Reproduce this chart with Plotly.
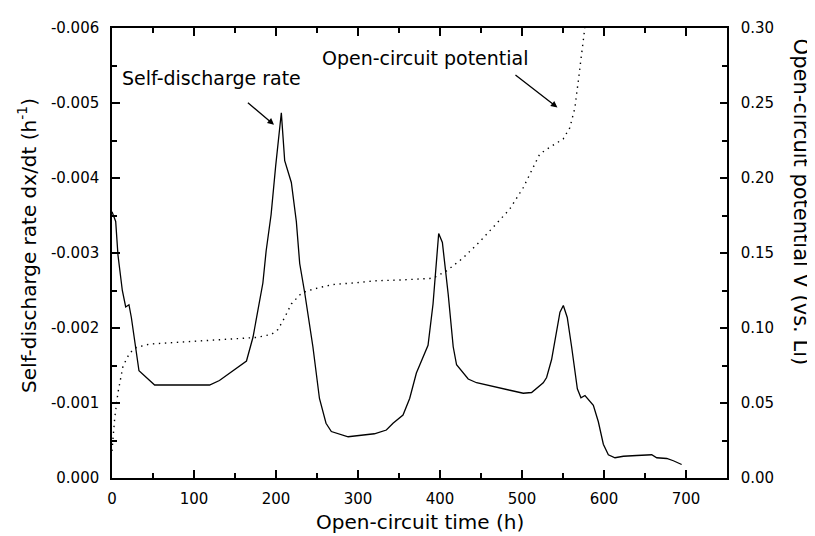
import plotly.graph_objects as go

# ---- data ----
rate_time = [0, 1.2, 4.5, 7.3, 12.6, 16.7, 20.7, 23.6, 32.9, 52, 119, 131, 164, 172, 184, 188, 194,
             199.6, 206.5, 210.6, 218.7, 224.8, 228.9, 235, 245, 253, 261, 267.5, 288, 320, 334.6,
             342.7, 354.9, 363, 371.2, 385.4, 391.5, 398.4, 402.9, 410, 416.1, 420.2, 434.4, 444.6,
             460.9, 473.1, 485.3, 501.5, 511.7, 525.9, 530, 536.1, 542.2, 546.3, 550.4, 555.2, 560.5,
             567.5, 571.9, 576.8, 587, 593.1, 599.2, 605.3, 613.4, 623.6, 639.9, 658.2, 664.3, 676.5,
             684.6, 694.7]
rate_values = [-0.00355, -0.00352, -0.00342, -0.00297, -0.00250, -0.00228, -0.00231, -0.00214, -0.00143,
               -0.00124, -0.00124, -0.00130, -0.00156, -0.00188, -0.00260, -0.00303, -0.00351,
               -0.00416, -0.00487, -0.00423, -0.00394, -0.00342, -0.00286, -0.00247, -0.00175, -0.00106,
               -0.00073, -0.00062, -0.00055, -0.00059, -0.00064,
               -0.00073, -0.00084, -0.00106, -0.00140, -0.00177, -0.00232, -0.00326, -0.00314, -0.00245,
               -0.00175, -0.00151, -0.00132, -0.00127,
               -0.00123, -0.00121, -0.00117, -0.00113, -0.00114, -0.00127, -0.00134, -0.00158, -0.00197,
               -0.00221, -0.00230, -0.00214, -0.00175,
               -0.00119, -0.00107, -0.00110, -0.00097, -0.00075, -0.00045, -0.00031, -0.00027, -0.00029,
               -0.00030, -0.00031, -0.00027, -0.00026,
               -0.00023, -0.00018]

ocp_time = [0, 3.3, 7.3, 13.4, 21.5, 29.7, 46, 66.3, 107, 147.6, 176, 194.3, 202.4, 210.6, 218.7, 228.9,
            237, 253.3, 269.5, 293.9, 322.4, 350.8, 387.5, 394, 407.8, 428.2, 448.5, 468.9, 485.1, 501.4,
            513.6, 521.7, 533.9, 550.2, 558.3, 564.4, 568.5, 572.5, 576.6]
ocp_values = [0.018, 0.040, 0.057, 0.0746, 0.0833, 0.087, 0.0893, 0.0900, 0.0915, 0.0928, 0.0937, 0.0957,
              0.0990, 0.107, 0.116, 0.122, 0.1246, 0.127, 0.129, 0.130, 0.1315, 0.132, 0.1330, 0.1340,
              0.138, 0.1467, 0.1576, 0.1696, 0.1793, 0.1935, 0.2076, 0.216, 0.2205, 0.226, 0.2335,
              0.2465, 0.264, 0.2815, 0.300]

x_tick_vals = [0, 100, 200, 300, 400, 500, 600, 700]
x_tick_labels = ["0", "100", "200", "300", "400", "500", "600", "700"]
x_minor_vals = [50, 150, 250, 350, 450, 550, 650, 750]
rate_tick_vals = [0, -0.001, -0.002, -0.003, -0.004, -0.005, -0.006]
rate_tick_labels = ["0.000", "-0.001", "-0.002", "-0.003", "-0.004", "-0.005", "-0.006"]
rate_minor_vals = [-0.0005, -0.0015, -0.0025, -0.0035, -0.0045, -0.0055]
ocp_tick_vals = [0, 0.05, 0.10, 0.15, 0.20, 0.25, 0.30]
ocp_tick_labels = ["0.00", "0.05", "0.10", "0.15", "0.20", "0.25", "0.30"]
ocp_minor_vals = [0.025, 0.075, 0.125, 0.175, 0.225, 0.275]

FONT = "DejaVu Sans"

fig = go.Figure()
fig.add_trace(go.Scatter(x=rate_time, y=rate_values, mode="lines",
                         line=dict(color="black", width=1.3), yaxis="y", showlegend=False))
fig.add_trace(go.Scatter(x=ocp_time, y=ocp_values, mode="lines",
                         line=dict(color="black", width=1.4, dash="1.4px,4.6px"), yaxis="y2", showlegend=False))

axis_common = dict(showline=True, linecolor="black", linewidth=1.5, ticks="inside",
                   tickcolor="black", tickwidth=1.5, showgrid=False, zeroline=False,
                   tickfont=dict(family=FONT, size=15, color="black"))

# page body has an 8px margin, so the figure is drawn 8px smaller and offset
fig.update_layout(
    width=807, height=528,
    margin=dict(l=104, r=88, t=11, b=58),
    paper_bgcolor="white", plot_bgcolor="white",
    xaxis=dict(range=[0, 750], tickvals=x_tick_vals, ticktext=x_tick_labels, ticklen=8,
               mirror="ticks", ticklabelstandoff=6,
               minor=dict(tickvals=x_minor_vals, ticks="inside", ticklen=5, tickcolor="black", tickwidth=1.5),
               **axis_common),
    yaxis=dict(range=[0, -0.006], tickvals=rate_tick_vals, ticktext=rate_tick_labels, ticklen=8,
               ticklabelstandoff=8,
               minor=dict(tickvals=rate_minor_vals, ticks="inside", ticklen=5, tickcolor="black", tickwidth=1.5),
               **axis_common),
    yaxis2=dict(range=[0, 0.30], tickvals=ocp_tick_vals, ticktext=ocp_tick_labels, ticklen=7,
                overlaying="y", side="right", ticklabelstandoff=9,
                minor=dict(tickvals=ocp_minor_vals, ticks="inside", ticklen=5, tickcolor="black", tickwidth=1.5),
                **axis_common),
    showlegend=False,
)

annos = [
    dict(text="Open-circuit time (h)", xref="paper", yref="paper", x=0.5, y=-0.098,
         showarrow=False, font=dict(family=FONT, size=20, color="black"), xanchor="center", yanchor="middle"),
    dict(text="Self-discharge rate dx/dt (h<sup>-1</sup>)", xref="paper", yref="paper", x=-0.138, y=0.516,
         textangle=-90, showarrow=False, font=dict(family=FONT, size=20, color="black"),
         xanchor="center", yanchor="middle"),
    dict(text="Open-circuit potential V (vs. Li)", xref="paper", yref="paper", x=1.1203, y=0.612,
         textangle=90, showarrow=False, font=dict(family=FONT, size=21, color="black"),
         xanchor="center", yanchor="middle"),
    dict(text="Self-discharge rate", xref="x", yref="y", x=10.2, y=-0.00534,
         showarrow=False, font=dict(family=FONT, size=19, color="black"), xanchor="left", yanchor="middle"),
    dict(text="Open-circuit potential", xref="x", yref="y", x=254, y=-0.00560,
         showarrow=False, font=dict(family=FONT, size=19, color="black"), xanchor="left", yanchor="middle"),
    dict(text="", xref="x", yref="y", x=197.6, y=-0.00471, axref="x", ayref="y", ax=163.9, ay=-0.00502,
         showarrow=True, arrowhead=2, arrowsize=1, arrowwidth=1.3, arrowcolor="black"),
    dict(text="", xref="x", yref="y", x=543.2, y=-0.00494, axref="x", ayref="y", ax=490.2, ay=-0.00539,
         showarrow=True, arrowhead=2, arrowsize=1, arrowwidth=1.3, arrowcolor="black"),
]
fig.update_layout(annotations=annos)

fig.write_html("out.html")
